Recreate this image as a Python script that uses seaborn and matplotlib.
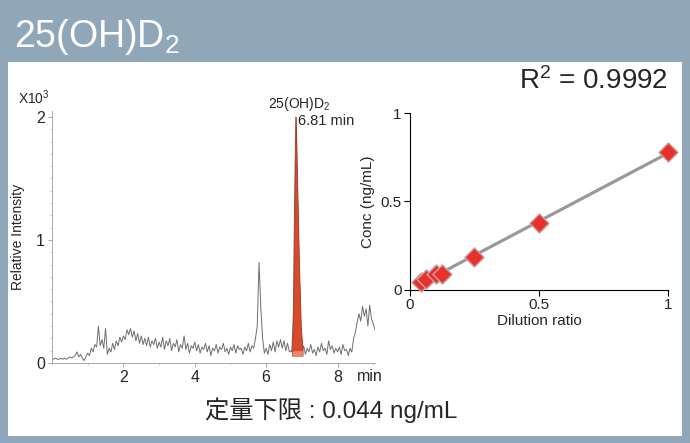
import numpy as np
import pandas as pd
import matplotlib
matplotlib.use('Agg')
import matplotlib.pyplot as plt
from matplotlib.patches import Rectangle
from matplotlib.ticker import MultipleLocator
import seaborn as sns

# chromatogram baseline, one value every 0.05 min from 0.00 to 9.05 (x10^3)
trace_step = 0.05
trace_y = [
    0.04, 0.03, 0.04, 0.03, 0.03, 0.04, 0.03, 0.04, 0.03, 0.04,
    0.05, 0.04, 0.05, 0.06, 0.09, 0.05, 0.07, 0.04, 0.02, 0.05,
    0.08, 0.06, 0.12, 0.09, 0.15, 0.13, 0.30, 0.14, 0.19, 0.12,
    0.28, 0.07, 0.12, 0.09, 0.16, 0.11, 0.18, 0.14, 0.21, 0.17,
    0.22, 0.19, 0.27, 0.23, 0.28, 0.21, 0.26, 0.18, 0.24, 0.16,
    0.22, 0.15, 0.20, 0.14, 0.21, 0.13, 0.18, 0.15, 0.20, 0.12,
    0.17, 0.13, 0.21, 0.11, 0.18, 0.14, 0.20, 0.10, 0.16, 0.13,
    0.19, 0.09, 0.15, 0.12, 0.22, 0.11, 0.16, 0.08, 0.14, 0.12,
    0.17, 0.10, 0.15, 0.08, 0.13, 0.11, 0.16, 0.09, 0.14, 0.06,
    0.12, 0.10, 0.15, 0.08, 0.13, 0.11, 0.16, 0.09, 0.12, 0.07,
    0.13, 0.10, 0.15, 0.08, 0.14, 0.11, 0.12, 0.07, 0.13, 0.10,
    0.16, 0.09, 0.14, 0.12, 0.20, 0.30, 0.82, 0.45, 0.20, 0.08,
    0.12, 0.07, 0.15, 0.10, 0.17, 0.09, 0.18, 0.13, 0.19, 0.12,
    0.18, 0.10, 0.16, 0.09, 0.10, 0.08, 0.09, 0.08, 0.09, 0.10,
    0.09, 0.14, 0.07, 0.12, 0.09, 0.15, 0.08, 0.11, 0.06, 0.13,
    0.09, 0.16, 0.10, 0.12, 0.07, 0.18, 0.11, 0.14, 0.08, 0.12,
    0.09, 0.13, 0.07, 0.15, 0.10, 0.11, 0.06, 0.12, 0.09, 0.20,
    0.25, 0.33, 0.40, 0.34, 0.46, 0.38, 0.44, 0.30, 0.47, 0.36,
    0.32, 0.27,
]

# 25(OH)D2 peak
peak_t = [6.72, 6.76, 6.80, 6.83, 6.87, 6.92, 6.97, 7.02]
peak_y = [0.09, 0.40, 1.40, 2.00, 1.45, 0.80, 0.30, 0.10]

# calibration
dilution = [0.0417, 0.0625, 0.1, 0.125, 0.25, 0.5, 1.0]
conc = [0.043, 0.060, 0.090, 0.088, 0.185, 0.380, 0.780]

x_ticks = [2, 4, 6, 8]
y_ticks = [0, 1, 2]
cal_ticks = [0, 0.5, 1]


sns.set_style('white')
plt.rcParams['font.family'] = ['Liberation Sans', 'DejaVu Sans']
plt.rcParams['mathtext.fontset'] = 'custom'
plt.rcParams['mathtext.rm'] = 'Liberation Sans'
plt.rcParams['mathtext.it'] = 'Liberation Sans'

fig = plt.figure(figsize=(6.9, 4.43), dpi=100)
fig.patch.set_facecolor('#8fa7b8')
fig.patches.append(Rectangle((0.0116, 0.0158), 0.9768, 0.8442, transform=fig.transFigure,
                             facecolor='white', edgecolor='none', zorder=-1))

fig.text(0.02, 0.893, '25(OH)D$_2$', color='white', fontsize=27, va='baseline')

# chromatogram
t_base = np.round(np.arange(len(trace_y)) * trace_step, 2)
df = pd.DataFrame({'t': t_base, 'y': trace_y})
df = df[(df['t'] < peak_t[0]) | (df['t'] > peak_t[-1])]
df = pd.concat([df, pd.DataFrame({'t': peak_t, 'y': peak_y})]).sort_values('t')

ax1 = fig.add_axes([0.0754, 0.1806, 0.4681, 0.5693])
ax1.set_facecolor('none')
sns.lineplot(data=df, x='t', y='y', ax=ax1, color='#6e6e6e', linewidth=0.7, sort=False)
ax1.fill_between(peak_t, 0.06, peak_y, color='#d84a2e', linewidth=0.6, edgecolor='#b8361e', zorder=3)
ax1.fill_between(peak_t, 0.06, np.minimum(peak_y, 0.10), color='#f2b09a', alpha=0.6,
                 linewidth=0, zorder=4)
ax1.set_xlim(0, 9.05)
ax1.set_ylim(0, 2.05)
ax1.set_xticks(x_ticks)
ax1.set_yticks(y_ticks)
ax1.xaxis.set_minor_locator(MultipleLocator(1))
ax1.yaxis.set_minor_locator(MultipleLocator(0.1))
ax1.tick_params(which='major', direction='out', length=3, width=0.6, color='#999999',
                labelsize=11.5, pad=2, bottom=True, left=True)
ax1.tick_params(which='minor', direction='out', length=1.5, width=0.5, color='#bbbbbb',
                bottom=True, left=True)
ax1.set_xlabel('')
ax1.set_ylabel('Relative Intensity', fontsize=10, labelpad=8)
for s in ['top', 'right']:
    ax1.spines[s].set_visible(False)
for s in ['left', 'bottom']:
    ax1.spines[s].set_color('#aaaaaa')
    ax1.spines[s].set_linewidth(0.7)
ax1.text(8.9, -0.045, 'min', fontsize=11.5, ha='center', va='top',
         transform=ax1.transData)
ax1.text(-0.95, 2.08, 'X10$^3$', fontsize=10, ha='left', va='bottom')
ax1.text(6.05, 2.03, '25(OH)D$_2$', fontsize=10, ha='left', va='bottom')
ax1.text(6.88, 1.97, '6.81 min', fontsize=10.5, ha='left', va='center')

# calibration
ax2 = fig.add_axes([0.5942, 0.3454, 0.3739, 0.3995])
ax2.set_facecolor('none')
sns.regplot(x=dilution, y=conc, ax=ax2, scatter=False, ci=None, truncate=True,
            line_kws={'color': '#999999', 'linewidth': 2.3})
sns.scatterplot(x=dilution, y=conc, ax=ax2, marker='D', s=95, color='#e8312b',
                edgecolor='#c8a2a2', linewidth=1.0, zorder=5, clip_on=False)
ax2.set_xlim(0, 1)
ax2.set_ylim(0, 1)
ax2.set_xticks(cal_ticks)
ax2.set_yticks(cal_ticks)
ax2.set_xticklabels(['0', '0.5', '1'])
ax2.set_yticklabels(['0', '0.5', '1'])
ax2.tick_params(direction='out', length=4, width=0.8, color='black', labelsize=11, pad=2,
                bottom=True, left=True)
ax2.set_xlabel('Dilution ratio', fontsize=11, labelpad=1)
ax2.set_ylabel('Conc (ng/mL)', fontsize=11, labelpad=4)
for s in ['top', 'right']:
    ax2.spines[s].set_visible(False)
for s in ['left', 'bottom']:
    ax2.spines[s].set_color('black')
    ax2.spines[s].set_linewidth(0.8)

fig.text(0.968, 0.785, 'R$^2$ = 0.9992', fontsize=20, ha='right', va='bottom')

fig.text(0.48, 0.074, '定量下限 : 0.044 ng/mL', fontsize=17.5, ha='center', va='center',
         family=['Liberation Sans', 'Noto Sans CJK JP'])

fig.savefig('out.png', dpi=100, facecolor=fig.get_facecolor())
